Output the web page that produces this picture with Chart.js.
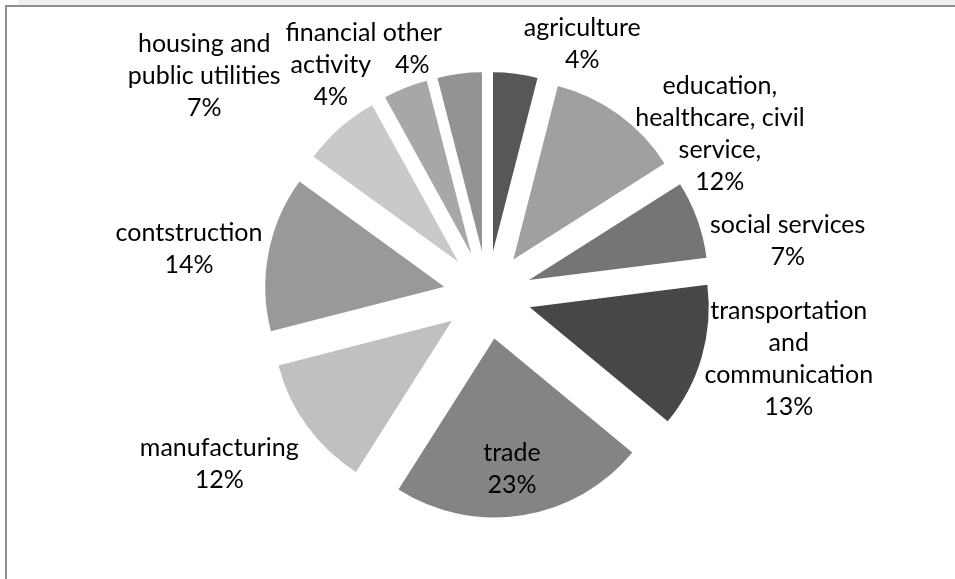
<!DOCTYPE html>
<html>
<head>
<meta charset="utf-8">
<script src="https://cdn.jsdelivr.net/npm/chart.js@4/dist/chart.umd.min.js"></script>
<style>
  html, body { margin: 0; padding: 0; background: #ffffff; }
  body { width: 955px; height: 579px; position: relative; overflow: hidden; }
  #strip { position: absolute; left: 18px; top: 0; right: 0; height: 5px; background: #f0f0f0; }
  #frame { position: absolute; left: 5px; top: 5px; right: -10px; bottom: -10px;
           border-left: 2px solid #8f8f8f; border-top: 2px solid #8f8f8f; }
  #chart { position: absolute; left: 0; top: 0; }
</style>
</head>
<body>
<div id="strip"></div>
<div id="frame"></div>
<canvas id="chart" width="955" height="579"></canvas>
<script>
// Employment by sector, share of total (%), clockwise from 12 o'clock
const categories = [
  ['agriculture'],
  ['education,', 'healthcare, civil', 'service,'],
  ['social services'],
  ['transportation', 'and', 'communication'],
  ['trade'],
  ['manufacturing'],
  ['contstruction'],
  ['housing and', 'public utilities'],
  ['financial', 'activity'],
  ['other']
];
const shares = [4, 12, 7, 13, 23, 12, 14, 7, 4, 4];
const sliceColors = ['#575757', '#a0a0a0', '#757575', '#474747', '#848484',
                     '#c0c0c0', '#999999', '#c9c9c9', '#a7a7a7', '#939393'];

// label placement: turn from the slice's mid angle (deg) and distance from pie centre (px)
const labelTurn = [13.5, 19.2, 9.6, -4.2, 1, 3.8, -2.1, -10.9, -12.7, -9.8];
const labelDist = [268, 283, 305, 308, 176, 317, 302, 358, 278, 257];

const EXPLODE = 44;       // every slice pulled out from the centre
const FONT_SIZE = 25;
const LINE_H = 32;

// exploded slices: shift each arc outward along its own mid angle
const baseArcDraw = Chart.ArcElement.prototype.draw;
Chart.ArcElement.prototype.draw = function (ctx) {
  const mid = (this.startAngle + this.endAngle) / 2;
  ctx.save();
  ctx.translate(Math.cos(mid) * EXPLODE, Math.sin(mid) * EXPLODE);
  baseArcDraw.call(this, ctx);
  ctx.restore();
};

const sliceLabels = {
  id: 'sliceLabels',
  afterDatasetsDraw(chart) {
    const { ctx } = chart;
    const meta = chart.getDatasetMeta(0);
    const values = chart.data.datasets[0].data;
    ctx.save();
    ctx.font = FONT_SIZE + 'px Lato, "Open Sans", sans-serif';
    ctx.fillStyle = '#000000';
    ctx.textAlign = 'center';
    ctx.textBaseline = 'middle';
    meta.data.forEach((arc, i) => {
      const a = (arc.startAngle + arc.endAngle) / 2 + labelTurn[i] * Math.PI / 180;
      const cx = arc.x + Math.cos(a) * labelDist[i];
      const cy = arc.y + Math.sin(a) * labelDist[i];
      const lines = categories[i].concat([values[i] + '%']);
      lines.forEach((t, k) => {
        ctx.fillText(t, cx, cy + (k - (lines.length - 1) / 2) * LINE_H);
      });
    });
    ctx.restore();
  }
};

new Chart(document.getElementById('chart'), {
  type: 'pie',
  data: {
    labels: categories.map(c => c.join(' ')),
    datasets: [{
      data: shares,
      backgroundColor: sliceColors,
      borderWidth: 0,
      radius: 179
    }]
  },
  options: {
    responsive: false,
    animation: false,
    layout: { padding: { left: 20, top: 11, right: 0, bottom: 0 } },
    plugins: { legend: { display: false }, tooltip: { enabled: false } }
  },
  plugins: [sliceLabels]
});
</script>
</body>
</html>
